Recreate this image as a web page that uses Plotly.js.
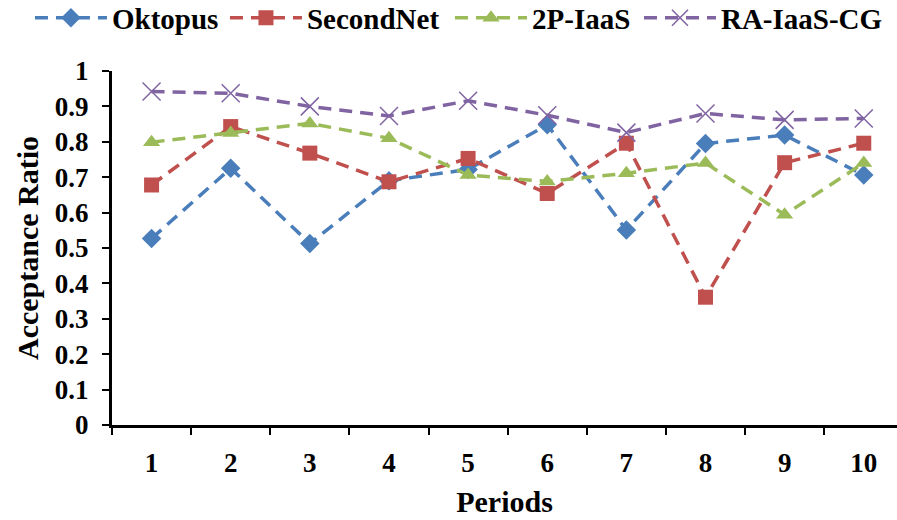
<!DOCTYPE html>
<html>
<head>
<meta charset="utf-8">
<script src="https://cdn.plot.ly/plotly-3.0.1.min.js"></script>
</head>
<body style="margin:0;background:#fff">
<div id="chart"></div>
<script>
const periods = ['1','2','3','4','5','6','7','8','9','10'];
const oktopus   = [0.527, 0.725, 0.513, 0.690, 0.722, 0.848, 0.551, 0.795, 0.819, 0.706];
const secondNet = [0.678, 0.843, 0.768, 0.687, 0.753, 0.654, 0.796, 0.361, 0.741, 0.796];
const twoPIaaS  = [0.799, 0.825, 0.852, 0.810, 0.706, 0.688, 0.711, 0.740, 0.594, 0.740];
const raIaaSCG  = [0.942, 0.937, 0.900, 0.873, 0.916, 0.875, 0.826, 0.880, 0.862, 0.866];
const seriesNames = ['Oktopus', 'SecondNet', '2P-IaaS', 'RA-IaaS-CG'];
const yTicks = [0, 0.1, 0.2, 0.3, 0.4, 0.5, 0.6, 0.7, 0.8, 0.9, 1];
const yTickText = ['0','0.1','0.2','0.3','0.4','0.5','0.6','0.7','0.8','0.9','1'];

const FONT = 'Liberation Serif';
const dash = '13px,8px';
function tr(name, y, color, marker, legendId) {
  return {
    type: 'scatter', mode: 'lines+markers', name: name, x: periods, y: y,
    legend: legendId,
    line: {color: color, width: 3.5, dash: dash},
    marker: Object.assign({color: color}, marker)
  };
}
const data = [
  tr(seriesNames[0], oktopus, '#4A7EBB', {symbol: 'diamond', size: 15}, 'legend'),
  tr(seriesNames[1], secondNet, '#C0504D', {symbol: 'square', size: 15}, 'legend2'),
  tr(seriesNames[2], twoPIaaS, '#9BBB59', {symbol: 'triangle-up', size: 15}, 'legend3'),
  tr(seriesNames[3], raIaaSCG, '#8064A2', {symbol: 'x-thin-open', size: 18, line: {color: '#8064A2', width: 1.5}}, 'legend4')
];
function leg(x) {
  return {
    orientation: 'h', x: x, xanchor: 'left', y: 1.15, yanchor: 'middle',
    font: {family: FONT, size: 29, weight: 'bold', color: '#000'},
    itemwidth: 72, bgcolor: 'rgba(0,0,0,0)'
  };
}
const layout = {
  width: 897, height: 520,
  margin: {l: 112, r: 0, t: 71, b: 95, autoexpand: false},
  paper_bgcolor: '#fff', plot_bgcolor: '#fff',
  font: {family: FONT, color: '#000', size: 27, weight: 'bold'},
  showlegend: true,
  legend: leg(-0.1045),
  legend2: leg(0.1439),
  legend3: leg(0.4306),
  legend4: leg(0.6713),
  xaxis: {
    type: 'category', range: [-0.5, 9.42], tickson: 'boundaries',
    showline: true, linecolor: '#000', linewidth: 3,
    ticks: 'outside', ticklen: 7, tickwidth: 2, tickcolor: '#000',
    showgrid: false, zeroline: false, fixedrange: true,
    tickfont: {family: FONT, size: 27, weight: 'bold', color: '#000'},
    ticklabelstandoff: 12,
    title: {text: 'Periods', font: {family: FONT, size: 30, weight: 'bold', color: '#000'}, standoff: 14}
  },
  yaxis: {
    range: [0, 1], tickvals: yTicks, ticktext: yTickText,
    showline: true, linecolor: '#000', linewidth: 3,
    ticks: 'outside', ticklen: 7, tickwidth: 2, tickcolor: '#000',
    showgrid: false, zeroline: false, fixedrange: true,
    tickfont: {family: FONT, size: 27, weight: 'bold', color: '#000'},
    ticklabelstandoff: 8,
    title: {text: 'Acceptance Ratio', font: {family: FONT, size: 30, weight: 'bold', color: '#000'}, standoff: 8}
  }
};
function fixFonts(gd) {
  gd.querySelectorAll('text').forEach(t => {
    const ff = t.style.fontFamily || '';
    if (ff.indexOf('Liberation Serif') !== -1) {
      t.style.removeProperty('font-family');
      t.setAttribute('font-family', 'Liberation Serif');
      t.style.removeProperty('font-weight');
      t.setAttribute('font-weight', 'bold');
    }
  });
}
Plotly.newPlot('chart', data, layout, {displayModeBar: false}).then(gd => {
  fixFonts(gd);
  gd.on('plotly_afterplot', () => fixFonts(gd));
});
</script>
</body>
</html>
